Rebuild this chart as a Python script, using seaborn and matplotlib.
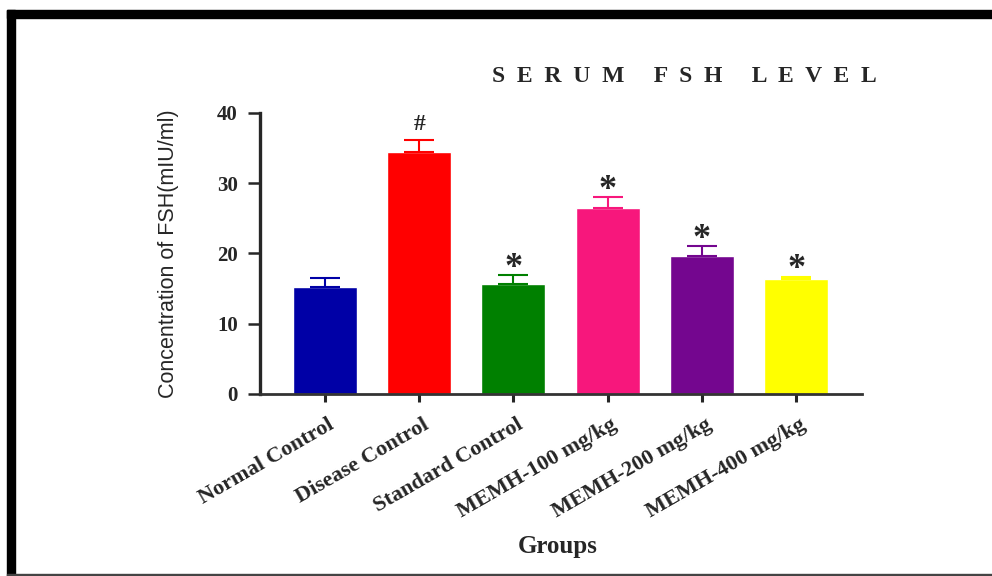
import numpy as np
import pandas as pd
import matplotlib
matplotlib.use("Agg")
import matplotlib.pyplot as plt
import matplotlib.transforms as mtransforms
from matplotlib.patches import Rectangle
import seaborn as sns

# ==========================================
# DATA
# ==========================================
groups = ["Normal Control", "Disease Control", "Standard Control",
          "MEMH-100 mg/kg", "MEMH-200 mg/kg", "MEMH-400 mg/kg"]
fsh_mean = [15.2, 34.4, 15.6, 26.5, 19.6, 16.4]
fsh_sem = [1.3, 1.7, 1.3, 1.5, 1.4, 0.3]
signif = ["", "#", "*", "*", "*", "*"]
bar_colors = ["#0000A6", "#FF0000", "#008000", "#F7177C", "#74068F", "#FFFF00"]

df = pd.DataFrame({"Group": groups, "FSH": fsh_mean})

# ==========================================
# PLOT
# ==========================================
sns.set_style("ticks")
serif = ["Liberation Serif", "DejaVu Serif"]

fig = plt.figure(figsize=(9.92, 5.76), dpi=100)
ax = fig.add_axes([0.262, 0.316, 0.607, 0.488])

sns.barplot(data=df, x="Group", y="FSH", hue="Group", palette=bar_colors,
            width=0.68, legend=False, ax=ax, saturation=1)

# upper error bars only
for i, (m, e, c) in enumerate(zip(fsh_mean, fsh_sem, bar_colors)):
    ax.errorbar(i, m, yerr=[[0], [e]], fmt="none", ecolor=c,
                elinewidth=1.5, capsize=11, capthick=1.5)

# significance marks
for i, (m, e, s) in enumerate(zip(fsh_mean, fsh_sem, signif)):
    if s == "#":
        ax.text(i, m + e + 2.3, s, ha="center", va="center",
                fontsize=17, fontweight="bold", family=serif)
    elif s:
        ax.text(i, m + e + 1.0, s, ha="center", va="center",
                fontsize=26, fontweight="bold", family=serif)

ax.set_ylim(0, 40)
ax.set_xlim(-0.69, 5.70)
ax.set_yticks([0, 10, 20, 30, 40])

sns.despine(ax=ax)
ax.spines["left"].set_linewidth(2.4)
ax.spines["bottom"].set_linewidth(2.0)
ax.spines["bottom"].set_color("#333333")
ax.tick_params(axis="y", length=9, width=1.8, pad=7)
ax.tick_params(axis="x", length=6, width=2.2, pad=9)

for lbl in ax.get_yticklabels():
    lbl.set_fontfamily(serif)
    lbl.set_fontweight("bold")
    lbl.set_fontsize(15)

offset = mtransforms.ScaledTranslation(0.03, 0, fig.dpi_scale_trans)
ax.set_xticks(range(len(groups)))
ax.set_xticklabels(groups, rotation=30, ha="right", rotation_mode="anchor",
                   fontsize=16, fontweight="bold", family=serif)
for lbl in ax.get_xticklabels():
    lbl.set_transform(lbl.get_transform() + offset)

ax.set_xlabel("Groups", fontsize=18, fontweight="bold", family=serif)
ax.xaxis.set_label_coords(0.495, -0.50)
ax.set_ylabel("Concentration of FSH(mIU/ml)", fontsize=15.5,
              family=["Liberation Sans Narrow", "Liberation Sans", "DejaVu Sans"])
ax.yaxis.set_label_coords(-0.135, 0.5)

fig.text(0.69, 0.868, "S  E  R  U  M     F  S  H     L  E  V  E  L",
         ha="center", va="center",
         fontsize=17, fontweight="bold", family=serif)

# frame around the picture
fig.add_artist(Rectangle((7 / 992, 0), 8 / 992, 1 - 10 / 576,
                         transform=fig.transFigure, color="black"))
fig.add_artist(Rectangle((7 / 992, 1 - 18 / 576), 1, 8 / 576,
                         transform=fig.transFigure, color="black"))
fig.add_artist(Rectangle((7 / 992, 0), 1, 2 / 576,
                         transform=fig.transFigure, color="#444444"))

fig.savefig("out.png", dpi=100)
